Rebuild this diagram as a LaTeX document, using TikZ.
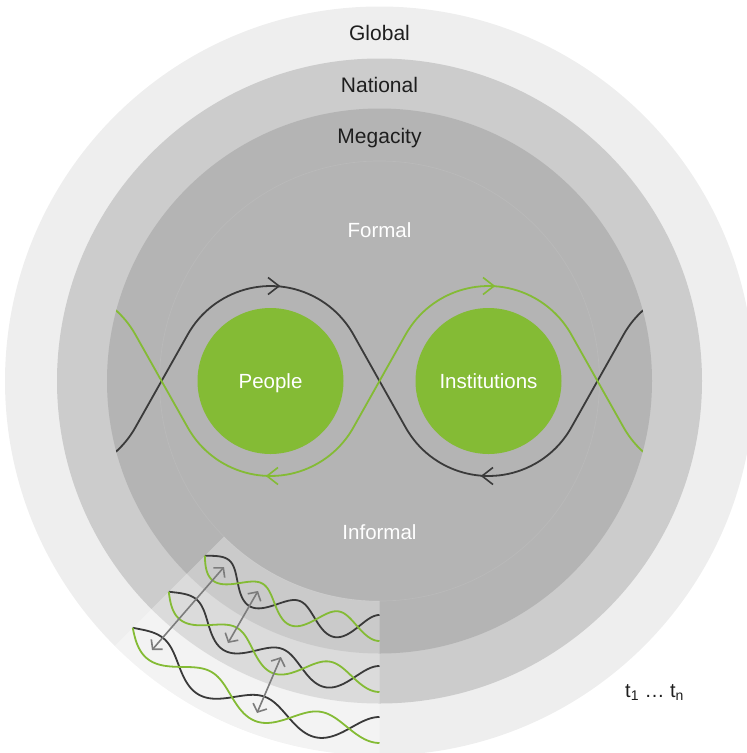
\documentclass[tikz,border=0pt]{standalone}
\usepackage{fontspec}
\setmainfont{Liberation Sans}
\usetikzlibrary{arrows.meta,calc}
\definecolor{globalc}{HTML}{EEEEEE}
\definecolor{nationalc}{HTML}{CCCCCC}
\definecolor{megac}{HTML}{B4B4B4}
\definecolor{faintc}{HTML}{BABABA}
\definecolor{greenc}{HTML}{84BB35}
\definecolor{darkc}{HTML}{3A3A3A}
\definecolor{arrowc}{HTML}{7C7C7C}
\definecolor{textc}{HTML}{1E1E1E}
\begin{document}
\begin{tikzpicture}[x=1pt,y=-1pt,
  darkwave/.style={draw=darkc, line width=1.8pt},
  greenwave/.style={draw=greenc, line width=1.8pt},
  chev/.style={line width=1.6pt, line join=miter},
  levellabel/.style={anchor=base, inner sep=0pt, text=textc, font=\fontsize{21}{23}\selectfont},
  whitelabel/.style={anchor=base, inner sep=0pt, text=white, font=\fontsize{20.5}{22}\selectfont},
  actor/.style={circle, fill=greenc, minimum size=146pt, inner sep=0pt, text=white, text height=14.7pt, text depth=0pt, font=\fontsize{20.5}{22}\selectfont},
  timearrow/.style={draw=arrowc, line width=1.6pt, {Straight Barb[length=6.5pt,width=15pt]}-{Straight Barb[length=6.5pt,width=15pt]}}
]
\useasboundingbox (0,0) rectangle (747,753);
\clip (0,0) rectangle (747,753);
\coordinate (O) at (379.5,381);
% level discs
\fill[globalc] (O) circle[radius=374.5];
\fill[nationalc] (O) circle[radius=322.5];
\fill[megac] (O) circle[radius=272.5];
\draw[faintc, line width=0.7pt] (O) circle[radius=220];
% lightened octant (time layers)
\fill[white, opacity=0.3] ($(O)+(90:220)$) -- ($(O)+(90:374.5)$)
  arc[start angle=90, end angle=135, radius=374.5] -- ($(O)+(135:220)$)
  arc[start angle=135, end angle=90, radius=220] -- cycle;
% main interaction curves
\begin{scope}
\clip (O) circle[radius=272.5];
\draw[darkwave] (84.99,470.27) arc[start angle=70, end angle=29.4, radius=95]
  -- (187.8,334.4) arc[start angle=209.4, end angle=330.6, radius=95]
  -- (405.7,427.6) arc[start angle=150.6, end angle=29.4, radius=95]
  -- (623.73,334.37) arc[start angle=209.4, end angle=250, radius=95];
\draw[greenwave] (84.99,291.73) arc[start angle=290, end angle=330.6, radius=95]
  -- (187.8,427.6) arc[start angle=150.6, end angle=29.4, radius=95]
  -- (405.7,334.4) arc[start angle=209.4, end angle=330.6, radius=95]
  -- (623.73,427.63) arc[start angle=150.6, end angle=110, radius=95];
\end{scope}
% direction chevrons
\draw[chev, darkc] (268,277.5) -- (279,286) -- (268,294.5);
\draw[chev, greenc] (483,277.5) -- (494,286) -- (483,294.5);
\draw[chev, greenc] (278,467.5) -- (267,476) -- (278,484.5);
\draw[chev, darkc] (493,467.5) -- (482,476) -- (493,484.5);
% actors
\node[actor] (people) at (270.5,381) {People};
\node[actor] (inst) at (488.5,381) {Institutions};
% time-layer waves
\foreach \R in {247,298,349}{
  \draw[darkwave] plot[domain=135:90, samples=150, smooth, variable=\t]
    ({379.5 + (\R - 13*sin(18*(135-\t)))*cos(\t)}, {381 + (\R - 13*sin(18*(135-\t)))*sin(\t)});
  \draw[greenwave] plot[domain=135:90, samples=150, smooth, variable=\t]
    ({379.5 + (\R + 13*sin(18*(135-\t)))*cos(\t)}, {381 + (\R + 13*sin(18*(135-\t)))*sin(\t)});
}
% arrows between layers
\coordinate (a1s) at (152,650); \coordinate (a1e) at (224,567);
\coordinate (a2s) at (228,643); \coordinate (a2e) at (258,591);
\coordinate (a3s) at (257,713); \coordinate (a3e) at (281,657);
\draw[timearrow] (a1s) -- (a1e);
\draw[timearrow] (a2s) -- (a2e);
\draw[timearrow] (a3s) -- (a3e);
% labels
\node[levellabel] (global) at (379.5,40) {Global};
\node[levellabel] (national) at (379.5,92) {National};
\node[levellabel] (megacity) at (379.5,143.3) {Megacity};
\node[whitelabel] (formal) at (379.5,237.5) {Formal};
\node[whitelabel] (informal) at (379.5,539) {Informal};
\node[anchor=base west, inner sep=0pt, text=textc, font=\fontsize{20}{22}\selectfont] (time) at (625,697) {t\textsubscript{1} … t\textsubscript{n}};
\end{tikzpicture}
\end{document}
